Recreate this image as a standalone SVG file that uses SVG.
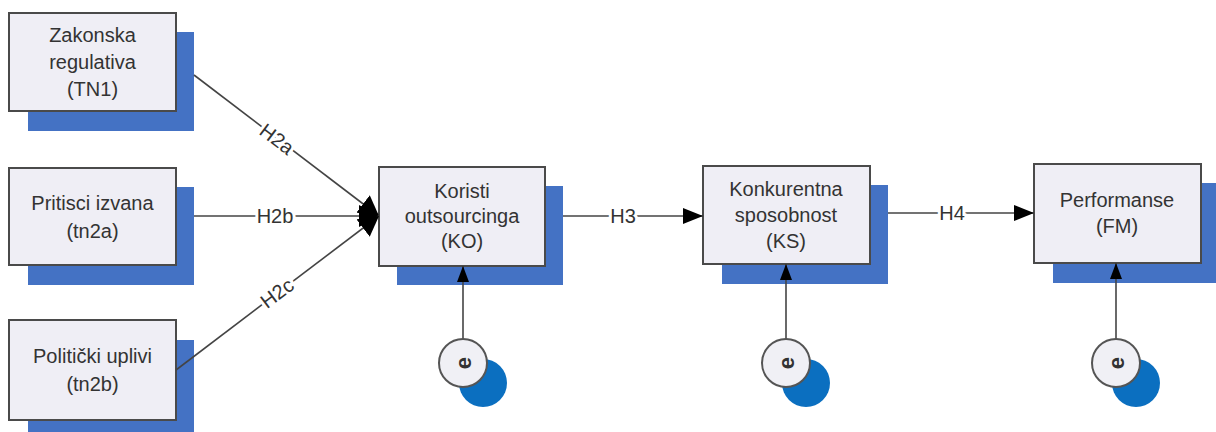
<svg xmlns="http://www.w3.org/2000/svg" width="1216" height="432" viewBox="0 0 1216 432">
<style>
.shadow{fill:#4472c4}
.box{fill:#efeef5;stroke:#4a4a4a;stroke-width:2}
.t{font-family:"Liberation Sans",Arial,sans-serif;font-size:20px;fill:#333;text-anchor:middle}
.lbl{font-family:"Liberation Sans",Arial,sans-serif;font-size:20px;fill:#333;text-anchor:middle;dominant-baseline:central;stroke:#fff;stroke-width:6px;paint-order:stroke;stroke-linejoin:round}
.ln{stroke:#444;stroke-width:1.6;fill:none}
.err{fill:#f0f0f5;stroke:#555;stroke-width:2}
.errb{fill:#0b6fc0}
.e{font-family:"Liberation Sans",Arial,sans-serif;font-size:22px;font-weight:bold;fill:#333;text-anchor:middle;dominant-baseline:central}
</style>
<defs>
<marker id="arr" viewBox="0 0 10 10" refX="10" refY="5" markerWidth="16" markerHeight="12" markerUnits="userSpaceOnUse" orient="auto" preserveAspectRatio="none">
<path d="M0,0 L10,5 L0,10 z" fill="#000"/>
</marker>
<marker id="arrB" viewBox="0 0 10 10" refX="10" refY="5" markerWidth="20" markerHeight="16" markerUnits="userSpaceOnUse" orient="auto" preserveAspectRatio="none">
<path d="M0,0 L10,5 L0,10 z" fill="#000"/>
</marker>
<marker id="arrC" viewBox="0 0 10 10" refX="10" refY="5" markerWidth="20" markerHeight="22" markerUnits="userSpaceOnUse" orient="auto" preserveAspectRatio="none">
<path d="M0,0 L10,5 L0,10 z" fill="#000"/>
</marker>
</defs>

<g id="node-tn1">
<rect class="shadow" x="28" y="32" width="166" height="99"/>
<rect class="box" x="9" y="13" width="167" height="98"/>
<text class="t" x="92.5" y="42">Zakonska</text>
<text class="t" x="92.5" y="69">regulativa</text>
<text class="t" x="92.5" y="96">(TN1)</text>
</g>

<g id="node-tn2a">
<rect class="shadow" x="28" y="187" width="166" height="98"/>
<rect class="box" x="9" y="168" width="167" height="97"/>
<text class="t" x="92.5" y="210">Pritisci izvana</text>
<text class="t" x="92.5" y="238">(tn2a)</text>
</g>

<g id="node-tn2b">
<rect class="shadow" x="28" y="340" width="166" height="98"/>
<rect class="box" x="9" y="320" width="167" height="100"/>
<text class="t" x="92.5" y="363">Politički uplivi</text>
<text class="t" x="92.5" y="391">(tn2b)</text>
</g>

<g id="node-ko">
<rect class="shadow" x="397" y="186" width="166" height="99"/>
<rect class="box" x="379" y="167" width="166" height="99"/>
<text class="t" x="462" y="198">Koristi</text>
<text class="t" x="462" y="223">outsourcinga</text>
<text class="t" x="462" y="248">(KO)</text>
</g>

<g id="node-ks">
<rect class="shadow" x="722" y="185" width="166" height="99"/>
<rect class="box" x="703" y="166" width="167" height="98"/>
<text class="t" x="786" y="196">Konkurentna</text>
<text class="t" x="786" y="222">sposobnost</text>
<text class="t" x="786" y="248">(KS)</text>
</g>

<g id="node-fm">
<rect class="shadow" x="1053" y="183" width="170" height="100"/>
<rect class="box" x="1034" y="164" width="167" height="99"/>
<text class="t" x="1117" y="207">Performanse</text>
<text class="t" x="1117" y="233">(FM)</text>
</g>

<g id="connectors">
<line class="ln" x1="194" y1="75" x2="379" y2="216" marker-end="url(#arrC)"/>
<line class="ln" x1="194" y1="216" x2="379" y2="216" marker-end="url(#arrC)"/>
<line class="ln" x1="176" y1="370" x2="379" y2="216" marker-end="url(#arrC)"/>
<line class="ln" x1="563" y1="216" x2="703" y2="216" marker-end="url(#arrB)"/>
<line class="ln" x1="888" y1="213" x2="1034" y2="213" marker-end="url(#arrB)"/>
<line class="ln" x1="463" y1="339" x2="463" y2="266" marker-end="url(#arr)"/>
<line class="ln" x1="786" y1="339" x2="786" y2="264" marker-end="url(#arr)"/>
<line class="ln" x1="1116" y1="339" x2="1116" y2="263" marker-end="url(#arr)"/>
<text class="lbl" x="277" y="139" transform="rotate(37 277 139)">H2a</text>
<text class="lbl" x="275" y="216">H2b</text>
<text class="lbl" x="277" y="293" transform="rotate(-37 277 293)">H2c</text>
<text class="lbl" x="623" y="216">H3</text>
<text class="lbl" x="952" y="213">H4</text>
</g>

<g id="node-e1">
<circle class="errb" cx="483" cy="383" r="24"/>
<circle class="err" cx="463" cy="363" r="24"/>
<text class="e" x="463" y="363" transform="rotate(-90 463 363)">e</text>
</g>

<g id="node-e2">
<circle class="errb" cx="806" cy="383" r="24"/>
<circle class="err" cx="786" cy="363" r="24"/>
<text class="e" x="786" y="363" transform="rotate(-90 786 363)">e</text>
</g>

<g id="node-e3">
<circle class="errb" cx="1136" cy="383" r="24"/>
<circle class="err" cx="1116" cy="363" r="24"/>
<text class="e" x="1116" y="363" transform="rotate(-90 1116 363)">e</text>
</g>
</svg>
